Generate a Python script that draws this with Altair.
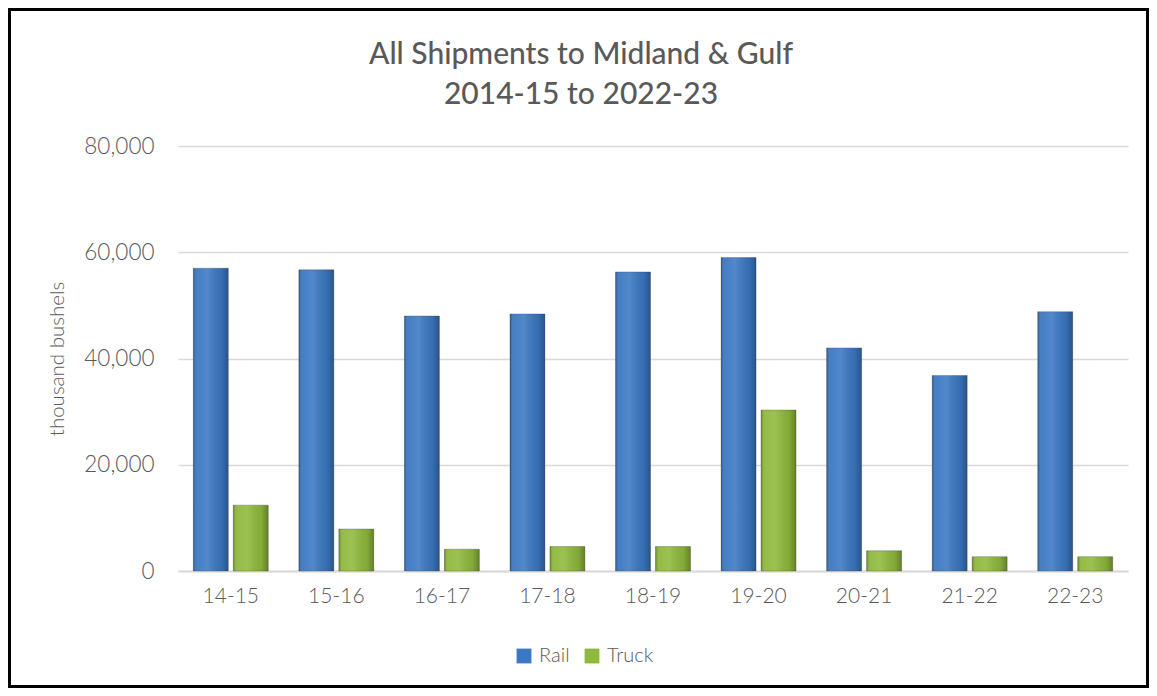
import altair as alt
import pandas as pd

categories = ["14-15", "15-16", "16-17", "17-18", "18-19", "19-20", "20-21", "21-22", "22-23"]
rail = [57000, 56700, 48000, 48400, 56300, 59000, 42000, 36800, 48800]
truck = [12400, 7900, 4100, 4600, 4600, 30300, 3800, 2700, 2700]
series = ["Rail", "Truck"]
colors = ["#3B78C3", "#8FB93C"]
y_ticks = [0, 20000, 40000, 60000, 80000]

rows = []
for c, r, t in zip(categories, rail, truck):
    rows.append({"season": c, "mode": "Rail", "value": r})
    rows.append({"season": c, "mode": "Truck", "value": t})
df = pd.DataFrame(rows)

FONT = "Lato"
TXT = "#595959"
W, H = 950, 425
PAD = {"left": 170, "top": 138, "right": 21, "bottom": 117}

x_enc = alt.X("season:N", sort=categories, title=None,
              scale=alt.Scale(paddingInner=0.29, paddingOuter=0.145),
              axis=alt.Axis(labelAngle=0, labelFontSize=21, labelColor=TXT, labelFont=FONT,
                            labelFontWeight=300, labelPadding=14, ticks=False,
                            domainColor="#d9d9d9", domainWidth=2))
xo_enc = alt.XOffset("mode:N", sort=series, scale=alt.Scale(paddingInner=0.125, paddingOuter=0))
y_enc = alt.Y("value:Q", title="thousand bushels",
              scale=alt.Scale(domain=[0, 80000], nice=False),
              axis=alt.Axis(values=y_ticks, labelExpr="format(datum.value, ',')",
                            labelFontSize=22.5, labelColor=TXT,
                            labelFont=FONT, labelFontWeight=300, labelPadding=24, ticks=False,
                            domain=False, gridColor="#d9d9d9", gridWidth=1.5,
                            titleFont=FONT, titleFontSize=20.5, titleFontWeight=300,
                            titleColor=TXT, titlePadding=16))

base = alt.Chart(df)

bars = base.mark_bar(stroke="#3a3a3a", strokeWidth=0.6, strokeOpacity=0.5).encode(
    x=x_enc, xOffset=xo_enc, y=y_enc,
    color=alt.Color("mode:N", sort=series,
                    scale=alt.Scale(domain=series, range=colors),
                    legend=alt.Legend(title=None, orient="none", legendX=336, legendY=500,
                                      direction="horizontal", symbolType="square",
                                      symbolSize=220, symbolStrokeWidth=0,
                                      labelFontSize=20, labelFont=FONT, labelColor=TXT,
                                      labelFontWeight=300, columnPadding=12, labelOffset=5)),
)

shade = base.mark_bar(
    fill=alt.Gradient(
        gradient="linear", x1=0, x2=1, y1=0, y2=0,
        stops=[
            alt.GradientStop(offset=0, color="rgba(0,0,0,0.28)"),
            alt.GradientStop(offset=0.12, color="rgba(255,255,255,0.05)"),
            alt.GradientStop(offset=0.4, color="rgba(255,255,255,0.12)"),
            alt.GradientStop(offset=0.8, color="rgba(0,0,0,0.08)"),
            alt.GradientStop(offset=1, color="rgba(0,0,0,0.30)"),
        ],
    )
).encode(x=x_enc, xOffset=xo_enc, y=y_enc)

frame = alt.Chart(alt.Data(values=[{}])).mark_rect(filled=False, stroke="#000000", strokeWidth=3).encode(
    x=alt.value(-PAD["left"] + 1.5), x2=alt.value(W + PAD["right"] - 1.5),
    y=alt.value(-PAD["top"] + 1.5), y2=alt.value(H + PAD["bottom"] - 1.5),
)

chart = alt.layer(bars, shade, frame).properties(
    width=W, height=H,
    background="white",
    title=alt.TitleParams(
        text=["All Shipments to Midland & Gulf", "2014-15 to 2022-23"],
        anchor="middle", frame="group", dx=-72, dy=102, offset=0, fontSize=30, font=FONT,
        fontWeight=500, color=TXT, lineHeight=40,
    ),
    autosize=alt.AutoSizeParams(type="none"),
    padding=PAD,
).configure_view(strokeWidth=0, stroke="transparent")

chart.save("out.html", embed_options={"renderer": "svg", "actions": False})
